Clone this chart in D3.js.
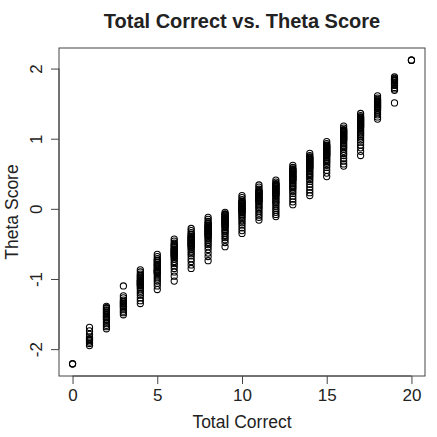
<!DOCTYPE html>
<html>
<head>
<meta charset="utf-8">
<script src="https://cdn.jsdelivr.net/npm/d3@7"></script>
<style>
  html, body { margin: 0; padding: 0; background: #fff; }
  svg text { font-family: "Liberation Sans", Arial, sans-serif; fill: #222; }
</style>
</head>
<body>
<div id="chart"></div>
<script>
(function () {
  // Theta scores, one list per total-correct score
  const scores = d3.range(0, 21);
  const theta0 = [-2.21, -2.21, -2.21];
  const theta1 = [-1.69, -1.74, -1.79, -1.83, -1.85, -1.86, -1.87, -1.88, -1.90, -1.92, -1.95];
  const theta2 = [-1.39, -1.41, -1.42, -1.44, -1.45, -1.47, -1.48, -1.50, -1.51, -1.53, -1.54, -1.55, -1.57, -1.58, -1.61, -1.63, -1.66, -1.68, -1.71];
  const theta3 = [-1.10, -1.24, -1.27, -1.30, -1.32, -1.33, -1.35, -1.36, -1.38, -1.39, -1.41, -1.43, -1.46, -1.48, -1.51];
  const theta4 = [-0.87, -0.90, -0.93, -0.95, -0.96, -0.98, -0.99, -1.01, -1.02, -1.03, -1.04, -1.05, -1.06, -1.07, -1.08, -1.09, -1.10, -1.12, -1.14, -1.17, -1.20, -1.23, -1.27, -1.31, -1.35];
  const theta5 = [-0.65, -0.68, -0.71, -0.73, -0.74, -0.76, -0.77, -0.79, -0.80, -0.81, -0.83, -0.84, -0.86, -0.87, -0.88, -0.89, -0.90, -0.91, -0.92, -0.94, -0.97, -1.00, -1.03, -1.06, -1.10, -1.15];
  const theta6 = [-0.43, -0.46, -0.49, -0.51, -0.52, -0.54, -0.55, -0.57, -0.58, -0.59, -0.60, -0.61, -0.62, -0.63, -0.64, -0.65, -0.66, -0.67, -0.68, -0.70, -0.72, -0.75, -0.78, -0.81, -0.85, -0.90, -0.96, -1.03];
  const theta7 = [-0.28, -0.31, -0.34, -0.36, -0.37, -0.39, -0.40, -0.41, -0.42, -0.43, -0.44, -0.45, -0.46, -0.47, -0.48, -0.49, -0.50, -0.51, -0.52, -0.53, -0.54, -0.56, -0.58, -0.61, -0.64, -0.67, -0.71, -0.75, -0.80, -0.85];
  const theta8 = [-0.12, -0.15, -0.18, -0.20, -0.21, -0.23, -0.24, -0.25, -0.26, -0.27, -0.28, -0.29, -0.30, -0.31, -0.32, -0.33, -0.34, -0.35, -0.36, -0.37, -0.38, -0.39, -0.41, -0.43, -0.45, -0.48, -0.51, -0.54, -0.58, -0.63, -0.68, -0.74];
  const theta9 = [-0.05, -0.07, -0.08, -0.09, -0.10, -0.11, -0.12, -0.13, -0.14, -0.15, -0.16, -0.17, -0.18, -0.19, -0.20, -0.21, -0.22, -0.23, -0.24, -0.25, -0.27, -0.29, -0.31, -0.33, -0.35, -0.38, -0.41, -0.44, -0.48, -0.54];
  const theta10 = [0.19, 0.16, 0.13, 0.11, 0.10, 0.09, 0.08, 0.07, 0.06, 0.05, 0.04, 0.03, 0.02, 0.01, 0.00, -0.01, -0.02, -0.03, -0.04, -0.05, -0.06, -0.08, -0.10, -0.12, -0.14, -0.17, -0.20, -0.23, -0.27, -0.31, -0.35];
  const theta11 = [0.34, 0.31, 0.28, 0.26, 0.25, 0.24, 0.23, 0.22, 0.21, 0.20, 0.19, 0.18, 0.17, 0.16, 0.15, 0.14, 0.13, 0.12, 0.11, 0.10, 0.08, 0.06, 0.04, 0.02, 0.00, -0.03, -0.06, -0.09, -0.12, -0.16];
  const theta12 = [0.41, 0.38, 0.36, 0.35, 0.34, 0.33, 0.32, 0.31, 0.30, 0.29, 0.28, 0.27, 0.26, 0.25, 0.24, 0.23, 0.22, 0.21, 0.20, 0.19, 0.17, 0.15, 0.13, 0.11, 0.09, 0.07, 0.04, 0.01, -0.02, -0.05, -0.08, -0.11];
  const theta13 = [0.62, 0.59, 0.57, 0.56, 0.55, 0.54, 0.53, 0.52, 0.51, 0.50, 0.49, 0.48, 0.47, 0.46, 0.45, 0.44, 0.43, 0.42, 0.41, 0.40, 0.38, 0.36, 0.34, 0.32, 0.30, 0.28, 0.25, 0.22, 0.18, 0.14, 0.10, 0.06];
  const theta14 = [0.79, 0.76, 0.74, 0.73, 0.72, 0.71, 0.70, 0.69, 0.68, 0.67, 0.66, 0.65, 0.64, 0.63, 0.62, 0.61, 0.60, 0.59, 0.58, 0.57, 0.55, 0.53, 0.51, 0.49, 0.47, 0.45, 0.42, 0.39, 0.35, 0.31, 0.27, 0.23, 0.19];
  const theta15 = [0.96, 0.93, 0.91, 0.90, 0.89, 0.88, 0.87, 0.86, 0.85, 0.84, 0.83, 0.82, 0.81, 0.80, 0.79, 0.78, 0.77, 0.76, 0.75, 0.73, 0.71, 0.69, 0.67, 0.65, 0.62, 0.59, 0.55, 0.51, 0.46];
  const theta16 = [1.18, 1.15, 1.13, 1.12, 1.11, 1.10, 1.09, 1.08, 1.07, 1.06, 1.05, 1.04, 1.03, 1.02, 1.01, 1.00, 0.99, 0.98, 0.97, 0.95, 0.93, 0.91, 0.89, 0.87, 0.85, 0.82, 0.79, 0.76, 0.72, 0.68, 0.64, 0.61];
  const theta17 = [1.36, 1.33, 1.31, 1.30, 1.29, 1.28, 1.27, 1.26, 1.25, 1.24, 1.23, 1.22, 1.21, 1.20, 1.19, 1.18, 1.17, 1.16, 1.14, 1.12, 1.10, 1.08, 1.06, 1.04, 1.01, 0.98, 0.95, 0.91, 0.87, 0.82, 0.76];
  const theta18 = [1.61, 1.58, 1.56, 1.55, 1.54, 1.53, 1.52, 1.51, 1.50, 1.49, 1.48, 1.47, 1.46, 1.45, 1.44, 1.43, 1.41, 1.40, 1.37, 1.34, 1.31, 1.28];
  const theta19 = [1.88, 1.86, 1.85, 1.84, 1.83, 1.82, 1.80, 1.79, 1.77, 1.76, 1.73, 1.71, 1.69, 1.51];
  const theta20 = [2.12, 2.12, 2.12];

  const thetaByScore = [theta0, theta1, theta2, theta3, theta4, theta5, theta6, theta7,
    theta8, theta9, theta10, theta11, theta12, theta13, theta14, theta15, theta16,
    theta17, theta18, theta19, theta20];

  const xTicks = [0, 5, 10, 15, 20];
  const yTicks = [-2, -1, 0, 1, 2];

  const points = [];
  scores.forEach((s, i) => thetaByScore[i].forEach(t => points.push({ x: s, y: t })));

  const width = 437, height = 437;
  const margin = { top: 48, right: 12, bottom: 61, left: 59 };
  const iw = width - margin.left - margin.right;
  const ih = height - margin.top - margin.bottom;

  const svg = d3.select("#chart").append("svg")
    .attr("width", width)
    .attr("height", height);

  // R-style 4% padding on both axes
  const xExt = d3.extent(points, d => d.x);
  const yExt = d3.extent(points, d => d.y);
  const xPad = (xExt[1] - xExt[0]) * 0.04;
  const yPad = (yExt[1] - yExt[0]) * 0.04;

  const x = d3.scaleLinear().domain([xExt[0] - xPad, xExt[1] + xPad]).range([0, iw]);
  const y = d3.scaleLinear().domain([yExt[0] - yPad, yExt[1] + yPad]).range([ih, 0]);

  const g = svg.append("g").attr("transform", `translate(${margin.left},${margin.top})`);

  // points
  g.append("g").selectAll("circle")
    .data(points)
    .join("circle")
      .attr("cx", d => x(d.x))
      .attr("cy", d => y(d.y))
      .attr("r", 3.1)
      .attr("fill", "none")
      .attr("stroke", "#000")
      .attr("stroke-width", 1.05);

  // box
  g.append("rect")
    .attr("x", 0).attr("y", 0)
    .attr("width", iw).attr("height", ih)
    .attr("fill", "none")
    .attr("stroke", "#444")
    .attr("stroke-width", 1);

  const plain = d => String(d);   // hyphen minus, like R

  // x axis
  const xAxis = g.append("g")
    .attr("transform", `translate(0,${ih})`)
    .call(d3.axisBottom(x).tickValues(xTicks).tickSize(8).tickPadding(5).tickFormat(plain));
  xAxis.select(".domain")
    .attr("d", `M${x(xTicks[0])},0H${x(xTicks[xTicks.length - 1])}`)
    .attr("stroke", "#444");
  xAxis.selectAll(".tick line").attr("stroke", "#444");
  xAxis.selectAll(".tick text")
    .style("font-size", "17px")
    .style("font-family", "'Liberation Sans', Arial, sans-serif")
    .attr("fill", "#222");

  // y axis, labels rotated like base R
  const yAxis = g.append("g")
    .call(d3.axisLeft(y).tickValues(yTicks).tickSize(8).tickFormat(plain));
  yAxis.select(".domain")
    .attr("d", `M0,${y(yTicks[0])}V${y(yTicks[yTicks.length - 1])}`)
    .attr("stroke", "#444");
  yAxis.selectAll(".tick line").attr("stroke", "#444");
  yAxis.selectAll(".tick text")
    .attr("x", null).attr("dy", null)
    .attr("transform", "translate(-17,0) rotate(-90)")
    .attr("text-anchor", "middle")
    .style("font-size", "17px")
    .style("font-family", "'Liberation Sans', Arial, sans-serif")
    .attr("fill", "#222");

  // titles
  svg.append("text")
    .attr("x", margin.left + iw / 2)
    .attr("y", 28)
    .attr("text-anchor", "middle")
    .style("font-size", "20px")
    .style("font-weight", "bold")
    .text("Total Correct vs. Theta Score");

  svg.append("text")
    .attr("x", margin.left + iw / 2)
    .attr("y", 428)
    .attr("text-anchor", "middle")
    .style("font-size", "17.5px")
    .text("Total Correct");

  svg.append("text")
    .attr("transform", `translate(18,${margin.top + ih / 2}) rotate(-90)`)
    .attr("text-anchor", "middle")
    .style("font-size", "17.5px")
    .text("Theta Score");
})();
</script>
</body>
</html>
